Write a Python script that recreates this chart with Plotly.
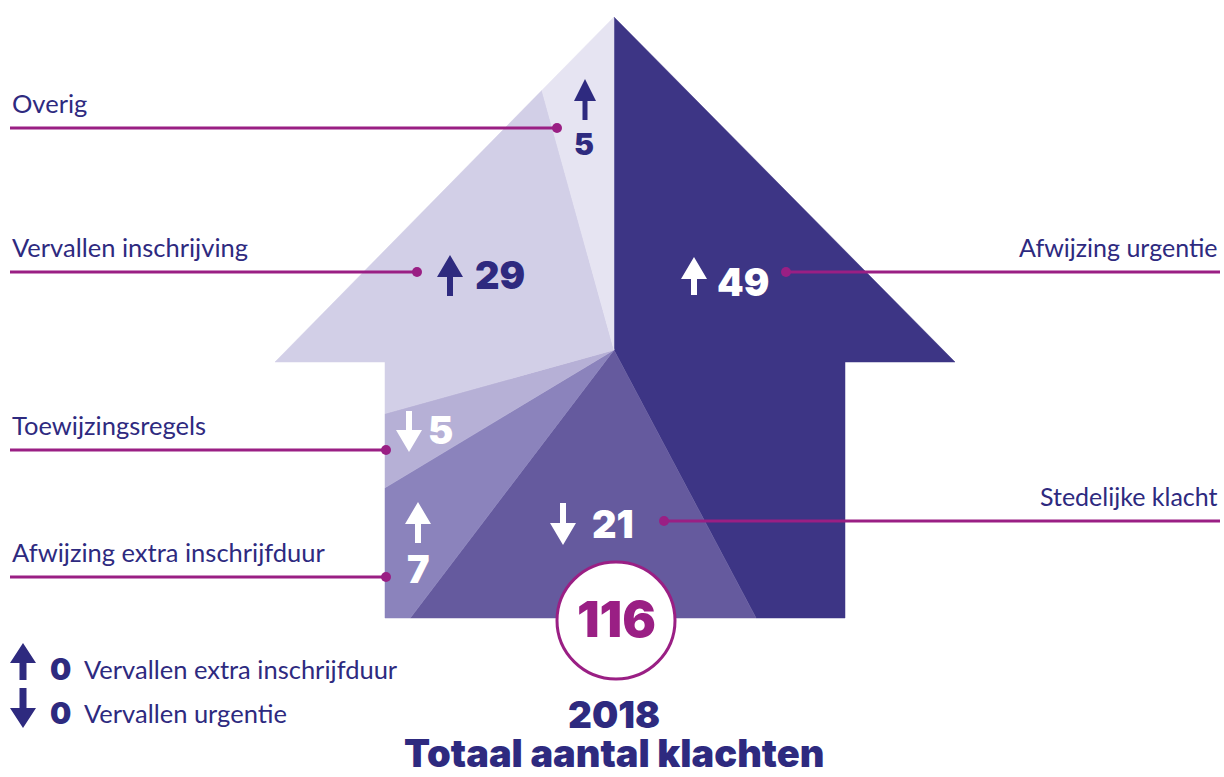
import math
import plotly.graph_objects as go

# klachten 2018 per categorie (taartverdeling, met de klok mee vanaf boven)
categories = ["Afwijzing urgentie", "Stedelijke klacht", "Afwijzing extra inschrijfduur",
              "Toewijzingsregels", "Vervallen inschrijving", "Overig"]
values = [49, 21, 7, 5, 29, 5]
trend = ["up", "down", "up", "down", "up", "up"]
zero_categories = ["Vervallen extra inschrijfduur", "Vervallen urgentie"]
zero_values = [0, 0]
zero_trend = ["up", "down"]
year = "2018"
title = "Totaal aantal klachten"

slice_colors = ["#3d3585", "#655a9e", "#8b83bc", "#b6b0d6", "#d2cfe7", "#e6e4f2"]
num_colors = ["white", "white", "white", "white", "#2e2a7f", "#2e2a7f"]
NAVY = "#2e2a7f"
MAGENTA = "#9a1f84"
NUMFONT = "Inter"
LABELFONT = "Lato"

# house/arrow outline in pixel coords, pie centre
house = [(614, 17), (955, 362), (845, 362), (845, 618), (385, 618), (385, 362), (275, 362)]
centre = (614, 350)

# where labels/numbers sit (layout only)
num_pos = [(694, 743, 282), (563, 613, 524), (418, 418, 569), (409, 440, 430), (450, 500, 275), (585, 584, 144)]
arrow_span = [(257, 295), (503, 545), (502, 543), (411, 452), (255, 296), (79, 120)]
label_pos = [("right", 272, 786), ("right", 521, 664), ("left", 577, 386),
             ("left", 450, 386), ("left", 272, 417), ("left", 128, 557)]


def clip(subject, clipper):
    # Sutherland-Hodgman, clipper convex
    area = sum(clipper[i][0] * clipper[i - 1][1] - clipper[i - 1][0] * clipper[i][1] for i in range(len(clipper)))
    sgn = 1 if area < 0 else -1

    def inside(p, a, b):
        return sgn * ((b[0] - a[0]) * (p[1] - a[1]) - (b[1] - a[1]) * (p[0] - a[0])) >= 0

    def inter(p, q, a, b):
        x1, y1 = p; x2, y2 = q; x3, y3 = a; x4, y4 = b
        d = (x1 - x2) * (y3 - y4) - (y1 - y2) * (x3 - x4)
        t = ((x1 - x3) * (y3 - y4) - (y1 - y3) * (x3 - x4)) / d
        return (x1 + t * (x2 - x1), y1 + t * (y2 - y1))

    out = list(subject)
    for i in range(len(clipper)):
        a, b = clipper[i - 1], clipper[i]
        inp, out = out, []
        for j in range(len(inp)):
            p, q = inp[j - 1], inp[j]
            if inside(q, a, b):
                if not inside(p, a, b):
                    out.append(inter(p, q, a, b))
                out.append(q)
            elif inside(p, a, b):
                out.append(inter(p, q, a, b))
    return out


def wedge(a0, a1, r=3000):
    pts = [centre]
    n = 24
    for k in range(n + 1):
        t = math.radians(a0 + (a1 - a0) * k / n)
        pts.append((centre[0] + r * math.sin(t), centre[1] - r * math.cos(t)))
    return pts


def arrow_path(cx, y0, y1, direction, hw=26, hh=22, sw=6):
    if direction == "up":
        tip, base, end = y0, y0 + hh, y1
    else:
        tip, base, end = y1, y1 - hh, y0
    return (f"M {cx},{tip} L {cx + hw / 2},{base} L {cx + sw / 2},{base} L {cx + sw / 2},{end} "
            f"L {cx - sw / 2},{end} L {cx - sw / 2},{base} L {cx - hw / 2},{base} Z")


fig = go.Figure()
shapes = []
annotations = []

total = sum(values)
start = 0.0
for i, (cat, v) in enumerate(zip(categories, values)):
    end = start + v / total * 360
    poly = clip(house, wedge(start, end))
    start = end
    xs = [p[0] for p in poly] + [poly[0][0]]
    ys = [p[1] for p in poly] + [poly[0][1]]
    fig.add_trace(go.Scatter(x=xs, y=ys, fill="toself", fillcolor=slice_colors[i], mode="lines",
                             line=dict(width=0.5, color=slice_colors[i]), name=cat, hoverinfo="name"))

    ax, nx, ny = num_pos[i]
    ya, yb = arrow_span[i]
    big = i != 5
    shapes.append(dict(type="path", path=arrow_path(ax, ya, yb, trend[i], hw=26 if big else 22, hh=22, sw=6 if big else 5),
                       fillcolor=num_colors[i], line=dict(width=0), xref="x", yref="y"))
    annotations.append(dict(x=nx, y=ny, text=str(v), showarrow=False, xanchor="center", yanchor="middle",
                            font=dict(family=NUMFONT, size=38 if big else 30, color=num_colors[i], weight=900)))

    side, ly, dx = label_pos[i]
    if side == "left":
        shapes.append(dict(type="line", x0=10, x1=dx, y0=ly, y1=ly, line=dict(color=MAGENTA, width=3)))
        annotations.append(dict(x=10, y=ly - 25, text=cat, showarrow=False, xanchor="left", yanchor="middle",
                                font=dict(family=LABELFONT, size=25.5, color=NAVY)))
    else:
        shapes.append(dict(type="line", x0=dx, x1=1220, y0=ly, y1=ly, line=dict(color=MAGENTA, width=3)))
        annotations.append(dict(x=1220, y=ly - 25, text=cat, showarrow=False, xanchor="right", yanchor="middle",
                                font=dict(family=LABELFONT, size=25, color=NAVY)))
    shapes.append(dict(type="circle", x0=dx - 5, x1=dx + 5, y0=ly - 5, y1=ly + 5,
                       fillcolor=MAGENTA, line=dict(width=0)))

# totaal in de cirkel
shapes.append(dict(type="circle", x0=557, x1=675, y0=562, y1=679, fillcolor="white",
                   line=dict(color=MAGENTA, width=3)))
annotations.append(dict(x=616, y=619, text=str(total), showarrow=False, xanchor="center", yanchor="middle",
                        font=dict(family=NUMFONT, size=50, color=MAGENTA, weight=900)))

# categorieen met 0 klachten
for k, (cat, v) in enumerate(zip(zero_categories, zero_values)):
    y0, y1 = [(643, 680), (688, 728)][k]
    shapes.append(dict(type="path", path=arrow_path(23, y0, y1, zero_trend[k], hw=26, hh=20, sw=7),
                       fillcolor=NAVY, line=dict(width=0)))
    cy = [669, 713][k]
    annotations.append(dict(x=60, y=cy, text=str(v), showarrow=False, xanchor="center", yanchor="middle",
                            font=dict(family=NUMFONT, size=30, color=NAVY, weight=900)))
    annotations.append(dict(x=82, y=cy, text=cat, showarrow=False, xanchor="left", yanchor="middle",
                            font=dict(family=LABELFONT, size=25.5, color=NAVY)))

annotations.append(dict(x=614, y=714, text=year, showarrow=False, xanchor="center", yanchor="middle",
                        font=dict(family=NUMFONT, size=37, color=NAVY, weight=900)))
annotations.append(dict(x=614, y=753, text=title, showarrow=False, xanchor="center", yanchor="middle",
                        font=dict(family=NUMFONT, size=38, color=NAVY, weight=900)))

fig.update_layout(
    width=1224, height=777,
    margin=dict(l=0, r=0, t=0, b=0),
    paper_bgcolor="white", plot_bgcolor="white",
    showlegend=False,
    xaxis=dict(range=[0, 1224], visible=False, fixedrange=True),
    yaxis=dict(range=[777, 0], visible=False, fixedrange=True),
    shapes=shapes,
    annotations=annotations,
)

fig.write_html("out.html", config={"displayModeBar": False},
               post_script="document.body.style.margin='0px';")
